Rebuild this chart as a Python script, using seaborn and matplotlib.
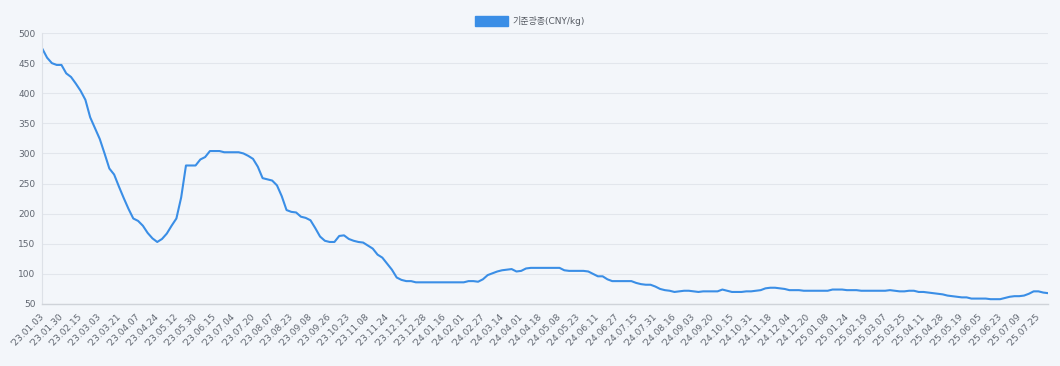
import matplotlib
matplotlib.use('Agg')
import pandas as pd
import matplotlib.pyplot as plt
import seaborn as sns
from matplotlib.patches import Patch

# 기준광종 가격 (CNY/kg), 라벨 한 칸마다 4개 샘플
tick_labels = [
    "'23.01.03", "'23.01.30", "'23.02.15", "'23.03.03", "'23.03.21", "'23.04.07",
    "'23.04.24", "'23.05.12", "'23.05.30", "'23.06.15", "'23.07.04", "'23.07.20",
    "'23.08.07", "'23.08.23", "'23.09.08", "'23.09.26", "'23.10.23", "'23.11.08",
    "'23.11.24", "'23.12.12", "'23.12.28", "'24.01.16", "'24.02.01", "'24.02.27",
    "'24.03.14", "'24.04.01", "'24.04.18", "'24.05.08", "'24.05.23", "'24.06.11",
    "'24.06.27", "'24.07.15", "'24.07.31", "'24.08.16", "'24.09.03", "'24.09.20",
    "'24.10.15", "'24.10.31", "'24.11.18", "'24.12.04", "'24.12.20", "'25.01.08",
    "'25.01.24", "'25.02.19", "'25.03.07", "'25.03.25", "'25.04.11", "'25.04.28",
    "'25.05.19", "'25.06.05", "'25.06.23", "'25.07.09", "'25.07.25",
]

prices = [
    474, 459, 450, 447, 447, 433, 427, 416, 404, 389,
    360, 342, 324, 300, 275, 265, 245, 226, 208, 192,
    188, 180, 168, 159, 153, 158, 167, 180, 192, 227,
    280, 280, 280, 290, 294, 304, 304, 304, 302, 302,
    302, 302, 300, 296, 291, 278, 259, 257, 255, 247,
    229, 206, 203, 202, 195, 193, 189, 176, 162, 155,
    153, 153, 163, 164, 158, 155, 153, 152, 147, 142,
    132, 127, 117, 107, 94, 90, 88, 88, 86, 86,
    86, 86, 86, 86, 86, 86, 86, 86, 86, 88,
    88, 87, 91, 98, 101, 104, 106, 107, 108, 104,
    105, 109, 110, 110, 110, 110, 110, 110, 110, 106,
    105, 105, 105, 105, 104, 100, 96, 96, 91, 88,
    88, 88, 88, 88, 85, 83, 82, 82, 79, 75,
    73, 72, 70, 71, 72, 72, 71, 70, 71, 71,
    71, 71, 74, 72, 70, 70, 70, 71, 71, 72,
    73, 76, 77, 77, 76, 75, 73, 73, 73, 72,
    72, 72, 72, 72, 72, 74, 74, 74, 73, 73,
    73, 72, 72, 72, 72, 72, 72, 73, 72, 71,
    71, 72, 72, 70, 70, 69, 68, 67, 66, 64,
    63, 62, 61, 61, 59, 59, 59, 59, 58, 58,
    58, 60, 62, 63, 63, 64, 67, 71, 71, 69,
    68,
]

legend_label = '기준광종(CNY/kg)'

bg = '#f3f6fa'
line_color = '#3a8ee6'
text_color = '#606670'

sns.set_theme(style='white')
plt.rcParams['font.family'] = ['DejaVu Sans', 'Noto Sans CJK KR']

df = pd.DataFrame({'idx': range(len(prices)), 'price': prices})

fig = plt.figure(figsize=(10.6, 3.66), dpi=100, facecolor=bg)
ax = fig.add_axes([0.0399, 0.1694, 0.9488, 0.7404])
ax.set_facecolor(bg)

sns.lineplot(data=df, x='idx', y='price', ax=ax, color=line_color, linewidth=1.5)

ax.set_xlim(0, len(prices) - 1)
ax.set_ylim(50, 500)
ax.set_yticks(range(50, 501, 50))
ax.set_xticks(range(0, 4 * len(tick_labels), 4))
ax.set_xticklabels(tick_labels, rotation=45, ha='right', va='center',
                   rotation_mode='anchor')
ax.set_xlabel('')
ax.set_ylabel('')
ax.tick_params(axis='both', length=0, labelsize=6.5, colors=text_color)
ax.tick_params(axis='x', pad=8)
ax.tick_params(axis='y', pad=5)

ax.grid(axis='y', color='#e2e6ec', linewidth=0.8)
ax.grid(axis='x', visible=False)
for side in ['top', 'right']:
    ax.spines[side].set_visible(False)
ax.spines['left'].set_color('#dde1e7')
ax.spines['bottom'].set_color('#cfd3d9')
ax.spines['left'].set_linewidth(0.8)
ax.spines['bottom'].set_linewidth(1.0)

fig.legend(handles=[Patch(facecolor=line_color, edgecolor=line_color, label=legend_label)],
           loc='center', bbox_to_anchor=(0.5, 1 - 21 / 366), frameon=False,
           fontsize=6.5, handlelength=3.7, handleheight=1.2, handletextpad=0.5,
           labelcolor='#555a62')

fig.savefig('out.png', dpi=100, facecolor=bg)
